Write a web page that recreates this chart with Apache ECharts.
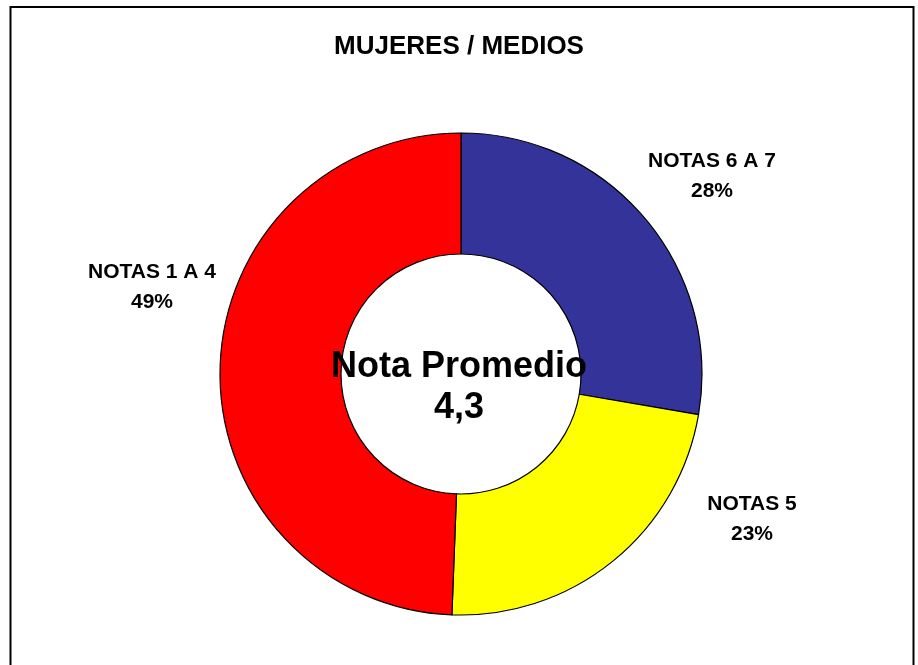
<!DOCTYPE html>
<html>
<head>
<meta charset="utf-8">
<script src="https://cdn.jsdelivr.net/npm/echarts@6/dist/echarts.min.js"></script>
<style>
  html, body { margin: 0; padding: 0; background: #fff; }
  #chart { width: 918px; height: 665px; }
</style>
</head>
<body>
<div id="chart"></div>
<script>
// data
var categories = ['NOTAS 6 A 7', 'NOTAS 5', 'NOTAS 1 A 4'];
var values = [27.7, 22.9, 49.4];
var colors = ['#333399', '#FFFF00', '#FF0000'];
var notaPromedio = '4,3';

// where excel dropped the labels
var labelPos = [[712, 176], [752, 519], [152, 287]];

(function () {
  var myChart = echarts.init(document.getElementById('chart'));
  var font = 'Arial, "Liberation Sans", sans-serif';

  var option = {
    animation: false,
    title: [
      {
        text: 'MUJERES / MEDIOS',
        left: 'center',
        top: 29,
        textStyle: { fontFamily: font, fontSize: 26, fontWeight: 'bold', color: '#000' }
      },
      {
        text: 'Nota Promedio\n' + notaPromedio,
        left: 'center',
        top: 342,
        textStyle: { fontFamily: font, fontSize: 36, fontWeight: 'bold', color: '#000', lineHeight: 41 }
      }
    ],
    graphic: [
      {
        type: 'rect',
        z: -1,
        shape: { x: 10.5, y: 7, width: 903, height: 700 },
        style: { fill: 'none', stroke: '#000', lineWidth: 2 }
      }
    ],
    series: [
      {
        type: 'pie',
        center: [461, 374],
        radius: [120, 241],
        startAngle: 90,
        clockwise: true,
        silent: true,
        data: categories.map(function (c, i) {
          return { name: c, value: values[i], itemStyle: { color: colors[i] } };
        }),
        itemStyle: {
          borderColor: '#000',
          borderWidth: 1.2
        },
        label: {
          show: true,
          position: 'outside',
          formatter: function (p) {
            return p.name + '\n' + Math.round(p.percent) + '%';
          },
          fontFamily: font,
          fontSize: 21,
          fontWeight: 'bold',
          color: '#000',
          lineHeight: 30,
          align: 'center'
        },
        labelLine: { show: false },
        labelLayout: function (params) {
          var p = labelPos[params.dataIndex];
          return { x: p[0], y: p[1], align: 'center', verticalAlign: 'middle' };
        }
      }
    ]
  };

  myChart.setOption(option);
  window.addEventListener('resize', function () {
    myChart.resize();
  });
})();
</script>
</body>
</html>
